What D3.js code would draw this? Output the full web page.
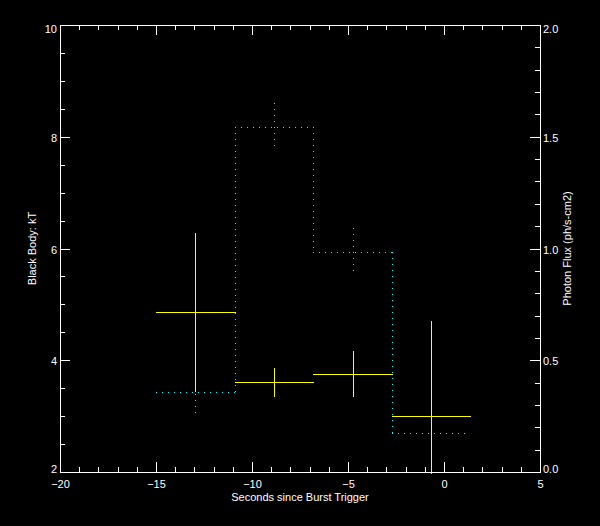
<!DOCTYPE html>
<html>
<head>
<meta charset="utf-8">
<script src="https://cdn.jsdelivr.net/npm/d3@7"></script>
<style>
  body { margin: 0; background: #000; }
  svg { display: block; background: #000; }
  text { font-family: "Liberation Sans", Arial, sans-serif; fill: #fff; }
</style>
</head>
<body>
<svg width="600" height="526"></svg>
<script>
// bin edges of the time intervals (seconds since trigger)
var binEdges = [-15.0, -10.9, -6.8, -2.7, 1.38];
// black body temperature kT and its error, left axis
var kT = [4.86, 3.61, 3.75, 3.01];
var kTErr = [1.42, 0.26, 0.41, 1.69];
// photon flux and its error, right axis
var flux = [0.357, 1.542, 0.983, 0.173];
var fluxErr = [0.10, 0.107, 0.107, 0.10];
// tick labels
var xTicks = [-20, -15, -10, -5, 0, 5];
var kTTicks = [2, 4, 6, 8, 10];
var fluxTicks = [0, 0.5, 1.0, 1.5, 2.0];

// plot box (note: "top" is reserved on window, so use other names)
var svg = d3.select("svg"),
    plotLeft = 60, plotRight = 540, plotTop = 25, plotBottom = 472;

var x = d3.scaleLinear().domain([-20, 5]).range([plotLeft, plotRight]);
var yL = d3.scaleLinear().domain([2, 10]).range([plotBottom, plotTop]);
var yR = d3.scaleLinear().domain([0, 2]).range([plotBottom, plotTop]);

// pixel snapping: centre of a pixel for the thin direction,
// pixel edge for the direction a dotted line runs in
function px(v) { return Math.round(v) + 0.5; }
function edge(v) { return Math.round(v); }

var centers = kT.map(function(d, i) { return (binEdges[i] + binEdges[i + 1]) / 2; });

svg.append("clipPath").attr("id", "plotclip")
  .append("rect")
    .attr("x", plotLeft).attr("y", plotTop)
    .attr("width", plotRight - plotLeft + 1).attr("height", plotBottom - plotTop + 2);

var plot = svg.append("g").attr("clip-path", "url(#plotclip)");

function dotted(sel) {
  sel.attr("stroke", "#00ffff")
     .attr("stroke-width", 1)
     .attr("stroke-dasharray", "1,5");
}

// flux histogram (cyan dotted steps): flat parts
plot.selectAll(".fstep")
  .data(flux)
  .enter().append("line")
    .attr("class", "fstep")
    .attr("x1", function(d, i) { return edge(x(binEdges[i])); })
    .attr("x2", function(d, i) { return edge(x(binEdges[i + 1])); })
    .attr("y1", function(d) { return px(yR(d)); })
    .attr("y2", function(d) { return px(yR(d)); })
    .call(dotted);

// risers between bins
plot.selectAll(".frise")
  .data(flux.slice(1))
  .enter().append("line")
    .attr("class", "frise")
    .attr("x1", function(d, i) { return px(x(binEdges[i + 1])); })
    .attr("x2", function(d, i) { return px(x(binEdges[i + 1])); })
    .attr("y1", function(d, i) { return edge(yR(flux[i])); })
    .attr("y2", function(d) { return edge(yR(d)); })
    .call(dotted);

// flux error bars
plot.selectAll(".ferr")
  .data(flux)
  .enter().append("line")
    .attr("class", "ferr")
    .attr("x1", function(d, i) { return px(x(centers[i])); })
    .attr("x2", function(d, i) { return px(x(centers[i])); })
    .attr("y1", function(d, i) { return edge(yR(d + fluxErr[i])); })
    .attr("y2", function(d, i) { return edge(yR(d - fluxErr[i])); })
    .call(dotted);

// kT crosses (yellow), drawn over the flux
plot.selectAll(".kth")
  .data(kT)
  .enter().append("line")
    .attr("class", "kth")
    .attr("x1", function(d, i) { return edge(x(binEdges[i])); })
    .attr("x2", function(d, i) { return edge(x(binEdges[i + 1])) + 1; })
    .attr("y1", function(d) { return px(yL(d)); })
    .attr("y2", function(d) { return px(yL(d)); })
    .attr("stroke", "#ffff00");

plot.selectAll(".ktv")
  .data(kT)
  .enter().append("line")
    .attr("class", "ktv")
    .attr("x1", function(d, i) { return px(x(centers[i])); })
    .attr("x2", function(d, i) { return px(x(centers[i])); })
    .attr("y1", function(d, i) { return edge(yL(d + kTErr[i])); })
    .attr("y2", function(d, i) { return edge(yL(d - kTErr[i])); })
    .attr("stroke", "#ffff00");

// axes
function styleAxis(g) {
  g.attr("font-family", null).attr("font-size", null);
  g.selectAll("path, line").attr("stroke", "#fff").attr("shape-rendering", "crispEdges");
  g.selectAll("text").attr("fill", "#fff").style("font-size", "11px");
}

var minorX = d3.range(-20, 5.01, 1);

svg.append("g").attr("transform", "translate(0," + plotBottom + ")")
    .call(d3.axisBottom(x).tickValues(minorX).tickFormat("").tickSize(-5).tickSizeOuter(0))
    .call(styleAxis);
svg.append("g").attr("transform", "translate(0," + plotBottom + ")")
    .call(d3.axisBottom(x).tickValues(xTicks).tickSize(-10).tickSizeOuter(0).tickPadding(8))
    .call(styleAxis);

svg.append("g").attr("transform", "translate(0," + plotTop + ")")
    .call(d3.axisTop(x).tickValues(minorX).tickFormat("").tickSize(-5).tickSizeOuter(0))
    .call(styleAxis);
svg.append("g").attr("transform", "translate(0," + plotTop + ")")
    .call(d3.axisTop(x).tickValues(xTicks).tickFormat("").tickSize(-10).tickSizeOuter(0))
    .call(styleAxis);

svg.append("g").attr("transform", "translate(" + plotLeft + ",0)")
    .call(d3.axisLeft(yL).tickValues(d3.range(2, 10.01, 0.5)).tickFormat("").tickSize(-5).tickSizeOuter(0))
    .call(styleAxis);
svg.append("g").attr("transform", "translate(" + plotLeft + ",0)")
    .call(d3.axisLeft(yL).tickValues(kTTicks).tickFormat(d3.format("d")).tickSize(-10).tickSizeOuter(0).tickPadding(3))
    .call(styleAxis)
  .selectAll("text")
    .attr("dy", function(d) { return d === 10 ? "0.72em" : d === 2 ? "0em" : "0.42em"; });

svg.append("g").attr("transform", "translate(" + plotRight + ",0)")
    .call(d3.axisRight(yR).tickValues(d3.range(0, 2.001, 0.1)).tickFormat("").tickSize(-5).tickSizeOuter(0))
    .call(styleAxis);
svg.append("g").attr("transform", "translate(" + plotRight + ",0)")
    .call(d3.axisRight(yR).tickValues(fluxTicks).tickFormat(d3.format(".1f")).tickSize(-10).tickSizeOuter(0).tickPadding(3))
    .call(styleAxis)
  .selectAll("text")
    .attr("dy", function(d) { return d === 2 ? "0.72em" : d === 0 ? "0em" : "0.42em"; });

// axis titles
svg.append("text")
    .attr("x", (plotLeft + plotRight) / 2)
    .attr("y", 501)
    .attr("text-anchor", "middle")
    .style("font-size", "11px")
    .text("Seconds since Burst Trigger");

svg.append("text")
    .attr("transform", "translate(36," + (plotTop + plotBottom) / 2 + ") rotate(-90)")
    .attr("text-anchor", "middle")
    .style("font-size", "11px")
    .text("Black Body: kT");

svg.append("text")
    .attr("transform", "translate(571," + (plotTop + plotBottom) / 2 + ") rotate(-90)")
    .attr("text-anchor", "middle")
    .style("font-size", "11px")
    .text("Photon Flux (ph/s-cm2)");
</script>
</body>
</html>
